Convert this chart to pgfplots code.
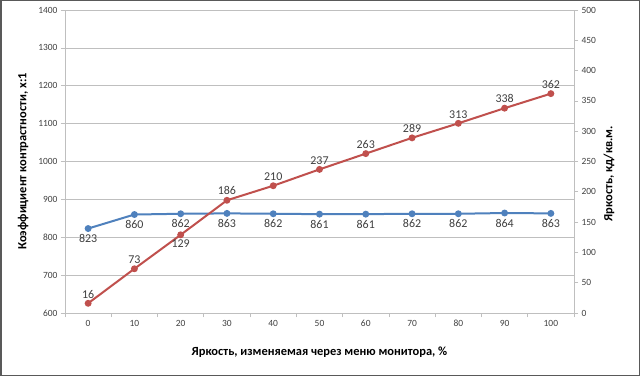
\documentclass[border=0pt]{standalone}
\usepackage{fontspec}
\setmainfont{Carlito}
\usepackage{pgfplots}
\usepackage{pgfplotstable}
\pgfplotsset{compat=1.18}
\definecolor{cblue}{HTML}{4F81BD}
\definecolor{cred}{HTML}{C0504D}
\definecolor{axgray}{HTML}{BFBFBF}
\definecolor{txtgray}{HTML}{404040}
\pgfplotstableread{
x y
0 823
10 860
20 862
30 863
40 862
50 861
60 861
70 862
80 862
90 864
100 863
}\contrast
\pgfplotstableread{
x y
0 16
10 73
20 129
30 186
40 210
50 237
60 263
70 289
80 313
90 338
100 362
}\bright
\pgfplotsset{
  common/.style={
    at={(65bp,63bp)}, anchor=south west, scale only axis,
    width=509bp, height=303bp,
    xmin=-5, xmax=105,
    axis line style={draw=axgray, line width=0.75bp, -},
    tick align=outside,
    major tick length=4bp,
    tick style={draw=axgray, line width=0.75bp},
    /pgf/number format/assume math mode=true,
    /pgf/number format/1000 sep={},
    ticklabel style={font=\fontsize{9.5}{11}\selectfont, text=txtgray},
    label style={font=\bfseries\fontsize{12.5}{14}\selectfont, text=black},
    nodes near coords style={font=\fontsize{12}{14}\selectfont, text=txtgray, inner xsep=1bp, inner ysep=5bp},
  }
}
\begin{document}
\begin{tikzpicture}
\draw[fill=white, draw=black!65, line width=1.5bp] (0.75bp,0.75bp) rectangle (639.25bp,375.25bp);
\begin{axis}[common,
  axis x line*=bottom, axis y line*=left,
  ymin=600, ymax=1400, ytick={600,700,...,1400},
  ymajorgrids, major grid style={draw=axgray, line width=0.75bp},
  xtick={0,10,...,100},
  major x tick style={draw=none},
  minor xtick={-5,5,...,105},
  minor x tick style={draw=axgray, line width=0.75bp},
  minor tick length=4bp,
  xlabel={Яркость, изменяемая через меню монитора, \%},
  ylabel={Коэффициент контрастности, x:1},
  xlabel style={at={(axis description cs:0.5,-0.1287)}, anchor=center},
  ylabel style={at={(axis description cs:-0.0825,0.5)}, anchor=center},
]
\addplot[cblue, line width=2bp, mark=*, mark size=2.4bp,
  nodes near coords, nodes near coords style={anchor=north}]
  table[x=x, y=y] {\contrast};
\end{axis}
\begin{axis}[common,
  hide x axis,
  axis y line*=right,
  ymin=0, ymax=500, ytick={0,50,...,500},
  ylabel={Яркость, кд/кв.м.},
  ylabel style={at={(axis description cs:1.0688,0.46)}, anchor=center},
]
\addplot[cred, line width=2bp, mark=*, mark size=2.4bp]
  table[x=x, y=y] {\bright};
\addplot[draw=none, mark=none,
  nodes near coords, nodes near coords style={anchor=south},
  skip coords between index={2}{3}]
  table[x=x, y=y] {\bright};
\addplot[draw=none, mark=none,
  nodes near coords, nodes near coords style={anchor=north},
  skip coords between index={0}{2}, skip coords between index={3}{11}]
  table[x=x, y=y] {\bright};
\end{axis}
\end{tikzpicture}
\end{document}
